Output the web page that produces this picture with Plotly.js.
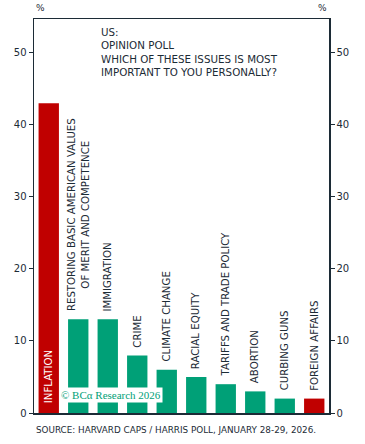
<!DOCTYPE html>
<html>
<head>
<meta charset="utf-8">
<script src="https://cdn.plot.ly/plotly-3.0.1.min.js"></script>
<style>html,body{margin:0;padding:0;background:#fff;}#chart{width:365px;height:444px;}</style>
</head>
<body>
<div id="chart"></div>
<script>
const categories = ["INFLATION","RESTORING BASIC AMERICAN VALUES<br>OF MERIT AND COMPETENCE","IMMIGRATION","CRIME","CLIMATE CHANGE","RACIAL EQUITY","TARIFFS AND TRADE POLICY","ABORTION","CURBING GUNS","FOREIGN AFFAIRS"];
const values = [43, 13, 13, 8, 6, 5, 4, 3, 2, 2];
const highlight = [true, false, false, false, false, false, false, false, false, true];
const yTicks = [0, 10, 20, 30, 40, 50];
const titleLines = ["US:", "OPINION POLL", "WHICH OF THESE ISSUES IS MOST", "IMPORTANT TO YOU PERSONALLY?"];

const RED = "#c00000", GREEN = "#00a077", INK = "#1c2b36";
const FONT = "'DejaVu Sans', sans-serif";

const xs = categories.map((c, i) => i);
const trace = {
  type: "bar", x: xs, y: values,
  marker: {color: highlight.map(h => h ? RED : GREEN), line: {width: 0}},
  hoverinfo: "none"
};
const trace2 = {type: "scatter", x: [0], y: [0], yaxis: "y2", mode: "markers", marker: {opacity: 0}, hoverinfo: "none", showlegend: false};

const annotations = [];
categories.forEach((c, i) => {
  const inside = i === 0;
  annotations.push({
    x: i, y: inside ? 0 : values[i], xref: "x", yref: "y",
    text: c, textangle: -90, showarrow: false,
    xanchor: "center", yanchor: "bottom", yshift: inside ? 8 : 6,
    font: {family: FONT, size: 10.2, color: inside ? "#ffffff" : INK},
    align: "center"
  });
});
annotations.push({
  xref: "paper", yref: "paper", x: 0.22, y: 0.987, xanchor: "left", yanchor: "top",
  text: titleLines.join("<br>"), showarrow: false, align: "left",
  font: {family: FONT, size: 10.3, color: INK}
});
annotations.push({
  xref: "paper", yref: "paper", x: 0.085, y: 0.045, xanchor: "left", yanchor: "middle",
  text: "© BCα Research 2026", showarrow: false,
  bgcolor: "#ffffff", borderpad: 1,
  font: {family: "'Liberation Serif', 'DejaVu Serif', serif", size: 11, color: GREEN}
});
annotations.push({
  xref: "paper", yref: "paper", x: 0.0, y: -0.025, xanchor: "left", yanchor: "top",
  text: "SOURCE: HARVARD CAPS / HARRIS POLL, JANUARY 28-29, 2026.", showarrow: false,
  font: {family: FONT, size: 8.8, color: INK}
});
annotations.push({
  xref: "paper", yref: "paper", x: 0.0, y: 1.01, xanchor: "left", yanchor: "bottom",
  text: "%", showarrow: false, font: {family: FONT, size: 9, color: INK}
});
annotations.push({
  xref: "paper", yref: "paper", x: 1.0, y: 1.01, xanchor: "right", yanchor: "bottom",
  text: "%", showarrow: false, font: {family: FONT, size: 9, color: INK}
});

const yax = {
  range: [0, 54.7], tickvals: yTicks, ticks: "outside", ticklen: 4, tickcolor: INK,
  showgrid: false, zeroline: false, showline: true, linecolor: INK, linewidth: 1.5,
  tickfont: {family: FONT, size: 10, color: INK}, fixedrange: true
};
const layout = {
  width: 365, height: 444,
  margin: {l: 34, r: 36, t: 19, b: 31},
  paper_bgcolor: "#fff", plot_bgcolor: "#fff",
  showlegend: false, bargap: 0.31,
  xaxis: {range: [-0.5, 9.5], showticklabels: false, ticks: "", showgrid: false, zeroline: false,
          showline: true, mirror: true, linecolor: INK, linewidth: 1.5, fixedrange: true},
  yaxis: Object.assign({}, yax, {side: "left"}),
  yaxis2: Object.assign({}, yax, {side: "right", overlaying: "y"}),
  annotations: annotations
};
Plotly.newPlot("chart", [trace, trace2], layout, {displayModeBar: false, staticPlot: true});
</script>
</body>
</html>
